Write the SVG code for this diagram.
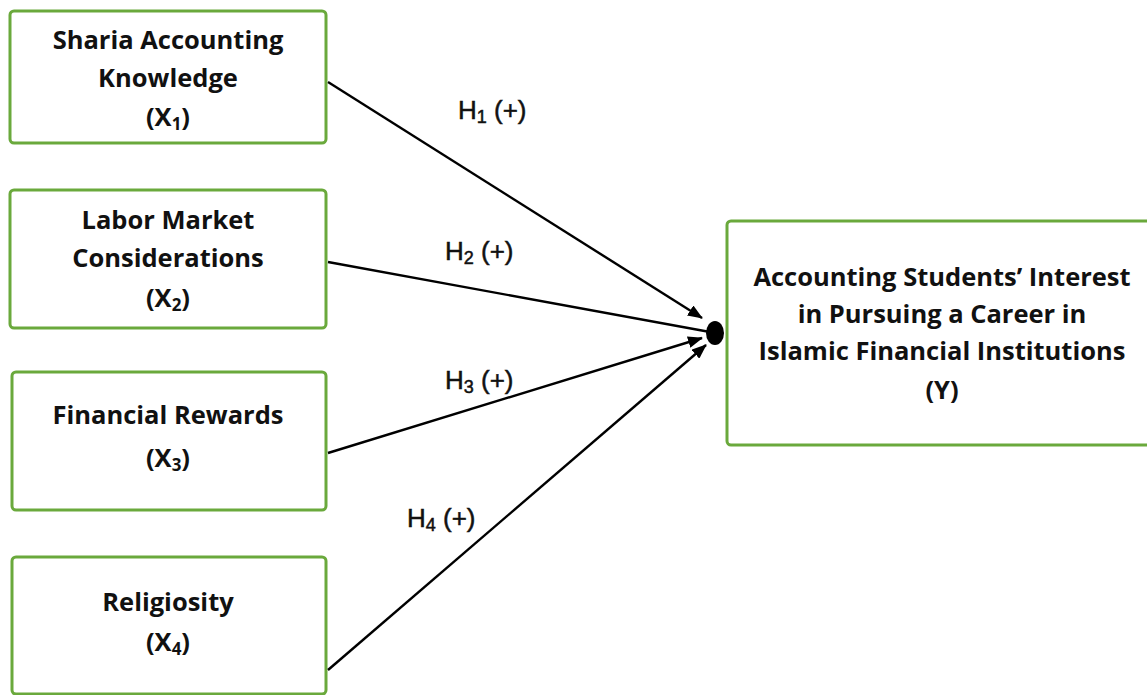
<svg xmlns="http://www.w3.org/2000/svg" width="1147" height="695" viewBox="0 0 1147 695">
<style>
.box{fill:#fff;stroke:#6aa93c;stroke-width:3}
.t{font-family:"Open Sans","Noto Sans",sans-serif;font-weight:bold;font-size:25.5px;fill:#111;text-anchor:middle}
.h{font-family:"Liberation Sans",Arial,sans-serif;font-size:26px;fill:#111;stroke:#111;stroke-width:0.5}
.c{stroke:#000;stroke-width:2.4;fill:none}
</style>
<defs>
<marker id="ah" viewBox="0 0 15 12" refX="14" refY="6" markerWidth="15" markerHeight="12" markerUnits="userSpaceOnUse" orient="auto">
<path d="M0,0 L15,6 L0,12 Z" fill="#000"/>
</marker>
</defs>
<rect width="1147" height="695" fill="#fff"/>
<g id="x1">
<rect class="box" x="10" y="11" width="316" height="132" rx="4"/>
<text class="t" x="168" y="49">Sharia Accounting</text>
<text class="t" x="168" y="87">Knowledge</text>
<text class="t" x="168" y="126">(X<tspan font-size="17" dy="4">1</tspan><tspan dy="-4">)</tspan></text>
</g>
<g id="x2">
<rect class="box" x="10" y="190" width="316" height="138" rx="4"/>
<text class="t" x="168" y="229">Labor Market</text>
<text class="t" x="168" y="267">Considerations</text>
<text class="t" x="168" y="307">(X<tspan font-size="17" dy="4">2</tspan><tspan dy="-4">)</tspan></text>
</g>
<g id="x3">
<rect class="box" x="12" y="372" width="314" height="138" rx="4"/>
<text class="t" x="168" y="424">Financial Rewards</text>
<text class="t" x="168" y="467">(X<tspan font-size="17" dy="4">3</tspan><tspan dy="-4">)</tspan></text>
</g>
<g id="x4">
<rect class="box" x="12" y="557" width="314" height="137" rx="4"/>
<text class="t" x="168" y="611">Religiosity</text>
<text class="t" x="168" y="651">(X<tspan font-size="17" dy="4">4</tspan><tspan dy="-4">)</tspan></text>
</g>
<g id="y">
<rect class="box" x="727" y="221" width="430" height="224" rx="4"/>
<text class="t" x="942" y="286">Accounting Students’ Interest</text>
<text class="t" x="942" y="323">in Pursuing a Career in</text>
<text class="t" x="942" y="360">Islamic Financial Institutions</text>
<text class="t" x="942" y="399">(Y)</text>
</g>
<g id="connectors">
<path class="c" d="M328,82 L702,318" marker-end="url(#ah)"/>
<path class="c" d="M328,262 L710,332"/>
<path class="c" d="M328,453 L702,338" marker-end="url(#ah)"/>
<path class="c" d="M328,670 L706,345" marker-end="url(#ah)"/>
<ellipse cx="715" cy="333" rx="9" ry="12" fill="#000"/>
</g>
<g id="labels">
<text class="h" x="458" y="119">H<tspan font-size="18" dy="4">1</tspan><tspan dy="-4"> (+)</tspan></text>
<text class="h" x="445" y="260">H<tspan font-size="18" dy="4">2</tspan><tspan dy="-4"> (+)</tspan></text>
<text class="h" x="445" y="389">H<tspan font-size="18" dy="4">3</tspan><tspan dy="-4"> (+)</tspan></text>
<text class="h" x="407" y="527">H<tspan font-size="18" dy="4">4</tspan><tspan dy="-4"> (+)</tspan></text>
</g>
</svg>
